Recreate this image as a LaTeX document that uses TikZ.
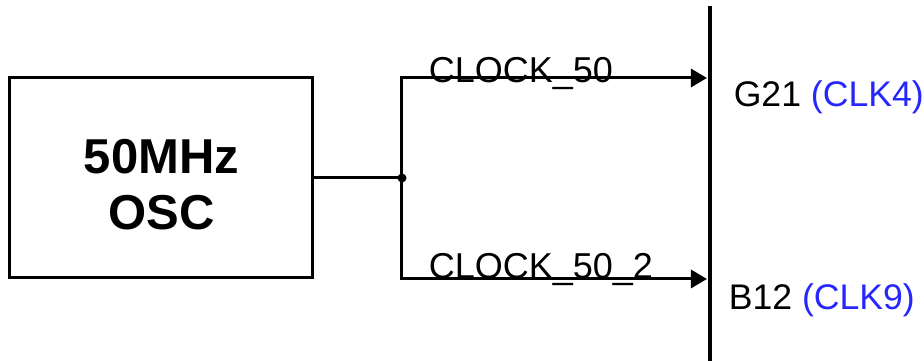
\documentclass[tikz,border=0pt]{standalone}
\usepackage{fontspec}
\setmainfont{Liberation Sans}
\usepackage{tikz}
\usetikzlibrary{arrows.meta}
\definecolor{clkblue}{rgb}{0.15,0.15,1.}
\tikzset{
  oscbox/.style={draw,line width=0.75pt,minimum width=75.75pt,minimum height=50pt,inner sep=0pt},
  osctext/.style={inner sep=0pt,align=center,font=\fontsize{12.25}{14}\selectfont\bfseries},
  netlabel/.style={anchor=base west,inner sep=0pt,font=\fontsize{9}{10}\selectfont},
  pinlabel/.style={anchor=base west,inner sep=0pt,font=\fontsize{8.9}{10}\selectfont},
  wire/.style={line width=0.75pt}
}
\begin{document}
\begin{tikzpicture}[line cap=butt,line join=miter,>={Triangle[length=4pt,width=4.5pt]},x=0.25pt,y=0.25pt]
\useasboundingbox (0,0) rectangle (924,361);
% oscillator
\node[oscbox] (osc) at (161.5,183) {};
\node[osctext] (osclbl) at (161.5,176) {50MHz\\OSC};
% branch point and arrow ends
\coordinate (jn) at (402,183);
\coordinate (pa) at (707,283);
\coordinate (pb) at (707,82);
\coordinate (fpgatop) at (710,355);
\coordinate (fpgabot) at (710,0);
\draw[wire] (osc.east) -- (jn);
\fill (jn) circle (4.5);
\draw[wire,->] (jn) |- (pa);
\draw[wire,->] (jn) |- (pb);
\draw[line width=0.85pt] (fpgatop) -- (fpgabot);
% nets
\node[netlabel] (clka) at (428,278) {CLOCK\_50};
\node[netlabel] (clkb) at (428,82) {CLOCK\_50\_2};
% pins
\node[pinlabel] (pina) at (733,254) {G21 \textcolor{clkblue}{(CLK4)}};
\node[pinlabel] (pinb) at (728,51) {B12 \textcolor{clkblue}{(CLK9)}};
\end{tikzpicture}
\end{document}
